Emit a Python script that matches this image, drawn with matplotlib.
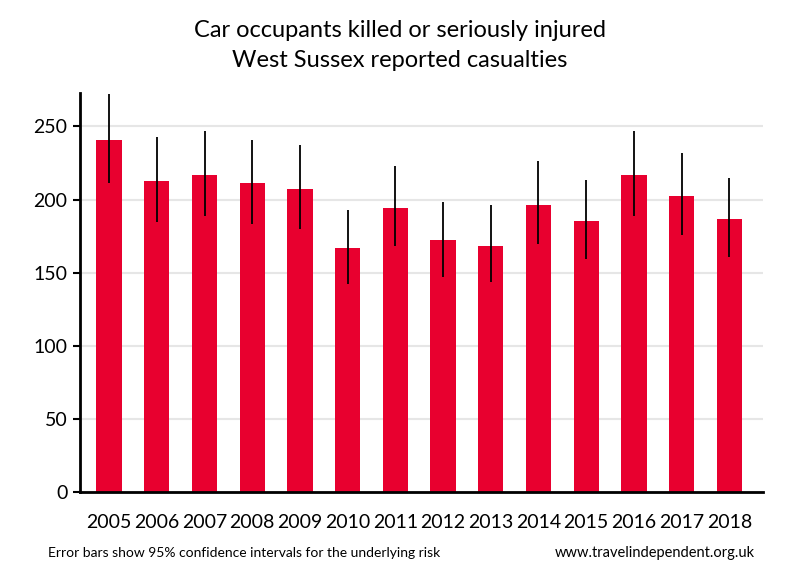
import numpy as np
import matplotlib
matplotlib.use("Agg")
import matplotlib.pyplot as plt

plt.rcParams["font.family"] = ["Lato", "DejaVu Sans"]

# ---------- Data ----------
years = ["2005", "2006", "2007", "2008", "2009", "2010", "2011",
         "2012", "2013", "2014", "2015", "2016", "2017", "2018"]
casualties = [241, 213, 217, 211, 207.5, 166.5, 194.5,
              172, 168.5, 196.5, 185.5, 217, 202.5, 187]
ci_low = [211, 184.5, 188.5, 183, 179.5, 142, 168,
          147, 143.5, 169.5, 159, 188.5, 175.5, 160.5]
ci_high = [272.5, 243, 247, 240.5, 237.5, 193, 223,
           198.5, 196, 226, 213.5, 247, 232, 215]
yticks = [0, 50, 100, 150, 200, 250]

x = np.arange(len(years))
vals = np.array(casualties)
yerr = np.vstack([vals - np.array(ci_low), np.array(ci_high) - vals])

fig = plt.figure(figsize=(8, 5.8), dpi=100)
ax = fig.add_axes([0.1, 0.152, 0.854, 0.688])

ax.bar(x, vals, width=0.53, color="#e8002f", zorder=2)
ax.errorbar(x, vals, yerr=yerr, fmt="none", ecolor="black",
            elinewidth=1.3, capsize=0, zorder=3)

ax.set_xlim(-0.61, len(years) - 1 + 0.71)
ax.set_ylim(0, 273)
ax.set_yticks(yticks)
ax.set_xticks(x)
ax.set_xticklabels(years)
ax.grid(axis="y", color="#e6e6e6", linewidth=1.5, zorder=0)
ax.set_axisbelow(True)

for side in ("top", "right"):
    ax.spines[side].set_visible(False)
for side in ("left", "bottom"):
    ax.spines[side].set_linewidth(2)
ax.tick_params(axis="y", length=5, width=1.5, labelsize=14, pad=4)
ax.tick_params(axis="x", length=0, labelsize=14, pad=16)

fig.text(0.5, 0.948, "Car occupants killed or seriously injured",
         ha="center", va="center", fontsize=17)
fig.text(0.5, 0.895, "West Sussex reported casualties",
         ha="center", va="center", fontsize=17)
fig.text(0.06, 0.046, "Error bars show 95% confidence intervals for the underlying risk",
         ha="left", va="center", fontsize=10)
fig.text(0.943, 0.046, "www.travelindependent.org.uk",
         ha="right", va="center", fontsize=10.5)

fig.savefig("out.png", dpi=100)
